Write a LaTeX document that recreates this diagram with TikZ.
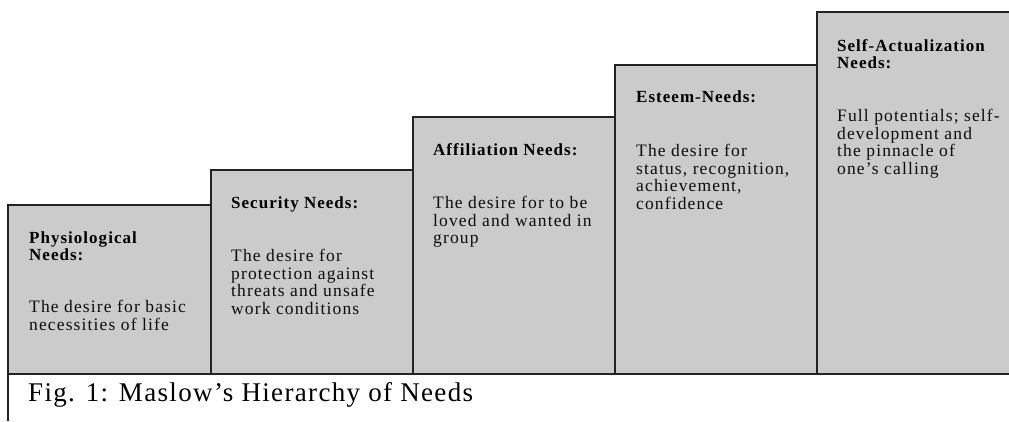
\documentclass[tikz,border=0pt]{standalone}
\usepackage{fontspec}
\setmainfont{Liberation Serif}
\usepackage{tikz}

\definecolor{fond}{RGB}{203,203,203}
\definecolor{trait}{RGB}{35,35,35}

\tikzset{
  marche/.style={fill=fond, draw=trait, line width=1.6pt},
  titre/.style={anchor=north west, inner sep=0pt, align=left, text=black,
    font=\fontsize{17}{17.5}\selectfont\bfseries\addfontfeature{LetterSpace=6}},
  texte/.style={anchor=north west, inner sep=0pt, align=left, text=black!95,
    font=\fontsize{17.5}{17.5}\selectfont\addfontfeature{LetterSpace=6.5}},
  legende/.style={anchor=base west, inner sep=0pt, text=black,
    font=\fontsize{27}{30}\selectfont\addfontfeature{LetterSpace=5}}
}

\begin{document}
\begin{tikzpicture}[x=1pt, y=-1pt]
            \useasboundingbox (0,0) rectangle (1009,421);

            %marches de la pyramide
            \filldraw[marche] (8,205) rectangle (211,374);
            \filldraw[marche] (211,170) rectangle (413,374);
            \filldraw[marche] (413,117) rectangle (615,374);
            \filldraw[marche] (615,65) rectangle (817,374);
            \filldraw[marche] (817,12) rectangle (1016,374);

            %besoins physiologiques
            \node[titre] (physio) at (29,231) {Physiological\\Needs:};
            \node[texte] (physio-txt) at (29,300) {The desire for basic\\necessities of life};

            %securite
            \node[titre] (secu) at (231,196) {Security Needs:};
            \node[texte] (secu-txt) at (231,249) {The desire for\\protection against\\threats and unsafe\\work conditions};

            %appartenance
            \node[titre] (affil) at (433,143) {Affiliation Needs:};
            \node[texte] (affil-txt) at (433,196) {The desire for to be\\loved and wanted in\\group};

            %estime
            \node[titre] (estime) at (636,91) {Esteem-Needs:};
            \node[texte] (estime-txt) at (636,144) {The desire for\\status, recognition,\\achievement,\\confidence};

            %accomplissement
            \node[titre] (accomp) at (837,39) {Self-Actualization\\Needs:};
            \node[texte] (accomp-txt) at (837,109) {Full potentials; self-\\development and\\the pinnacle of\\one's calling};

            %legende
            \draw[trait, line width=1.6pt] (8,374) -- (8,421);
            \node[legende] (fig) at (28,401) {Fig. 1: Maslow's Hierarchy of Needs};

        \end{tikzpicture}
\end{document}
